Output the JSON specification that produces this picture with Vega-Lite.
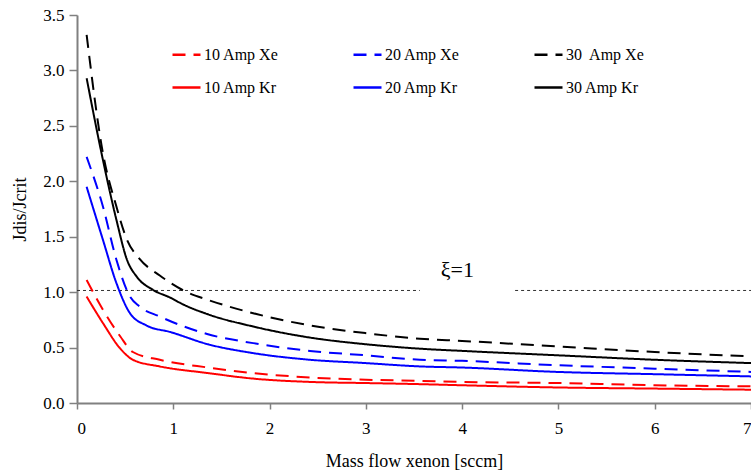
{
  "$schema": "https://vega.github.io/schema/vega-lite/v6.json",
  "autosize": "none",
  "padding": {"left": 77, "top": 15, "right": 0, "bottom": 68},
  "width": 674,
  "height": 388,
  "background": "white",
  "config": {
    "view": {"stroke": null},
    "font": "Liberation Serif",
    "axis": {"grid": false, "domainColor": "#808080", "tickColor": "#808080", "domainWidth": 2, "tickWidth": 1.5, "labelColor": "#000", "titleColor": "#000", "labelFont": "Liberation Serif", "titleFont": "Liberation Serif", "labelFontSize": 17, "titleFontSize": 18, "titleFontWeight": "normal"},
    "legend": {"labelFont": "Liberation Serif", "labelFontSize": 16, "labelColor": "#000"}
  },
  "datasets": {
    "curves": [
      {"series": "30  Amp Xe", "x": 0.1, "y": 3.32}, {"series": "30  Amp Xe", "x": 0.27, "y": 2.25}, {"series": "30  Amp Xe", "x": 0.41, "y": 1.77}, {"series": "30  Amp Xe", "x": 0.52, "y": 1.47}, {"series": "30  Amp Xe", "x": 0.65, "y": 1.3}, {"series": "30  Amp Xe", "x": 0.86, "y": 1.15}, {"series": "30  Amp Xe", "x": 1.14, "y": 1.0}, {"series": "30  Amp Xe", "x": 1.36, "y": 0.93}, {"series": "30  Amp Xe", "x": 1.83, "y": 0.81}, {"series": "30  Amp Xe", "x": 2.42, "y": 0.7}, {"series": "30  Amp Xe", "x": 3.0, "y": 0.63}, {"series": "30  Amp Xe", "x": 3.56, "y": 0.58}, {"series": "30  Amp Xe", "x": 4, "y": 0.56}, {"series": "30  Amp Xe", "x": 5, "y": 0.51}, {"series": "30  Amp Xe", "x": 6, "y": 0.46}, {"series": "30  Amp Xe", "x": 7, "y": 0.42},
      {"series": "30 Amp Kr", "x": 0.1, "y": 2.93}, {"series": "30 Amp Kr", "x": 0.27, "y": 2.19}, {"series": "30 Amp Kr", "x": 0.41, "y": 1.65}, {"series": "30 Amp Kr", "x": 0.52, "y": 1.29}, {"series": "30 Amp Kr", "x": 0.62, "y": 1.14}, {"series": "30 Amp Kr", "x": 0.79, "y": 1.02}, {"series": "30 Amp Kr", "x": 0.97, "y": 0.95}, {"series": "30 Amp Kr", "x": 1.1, "y": 0.89}, {"series": "30 Amp Kr", "x": 1.36, "y": 0.8}, {"series": "30 Amp Kr", "x": 1.83, "y": 0.69}, {"series": "30 Amp Kr", "x": 2.42, "y": 0.59}, {"series": "30 Amp Kr", "x": 3.0, "y": 0.53}, {"series": "30 Amp Kr", "x": 3.56, "y": 0.49}, {"series": "30 Amp Kr", "x": 4, "y": 0.47}, {"series": "30 Amp Kr", "x": 5, "y": 0.43}, {"series": "30 Amp Kr", "x": 6, "y": 0.39}, {"series": "30 Amp Kr", "x": 7, "y": 0.36},
      {"series": "20 Amp Xe", "x": 0.1, "y": 2.22}, {"series": "20 Amp Xe", "x": 0.27, "y": 1.77}, {"series": "20 Amp Xe", "x": 0.41, "y": 1.29}, {"series": "20 Amp Xe", "x": 0.55, "y": 0.96}, {"series": "20 Amp Xe", "x": 0.65, "y": 0.87}, {"series": "20 Amp Xe", "x": 0.86, "y": 0.78}, {"series": "20 Amp Xe", "x": 1.36, "y": 0.62}, {"series": "20 Amp Xe", "x": 1.83, "y": 0.54}, {"series": "20 Amp Xe", "x": 2.42, "y": 0.47}, {"series": "20 Amp Xe", "x": 3.0, "y": 0.43}, {"series": "20 Amp Xe", "x": 3.56, "y": 0.39}, {"series": "20 Amp Xe", "x": 4, "y": 0.38}, {"series": "20 Amp Xe", "x": 5, "y": 0.34}, {"series": "20 Amp Xe", "x": 6, "y": 0.31}, {"series": "20 Amp Xe", "x": 7, "y": 0.28},
      {"series": "20 Amp Kr", "x": 0.1, "y": 1.95}, {"series": "20 Amp Kr", "x": 0.27, "y": 1.47}, {"series": "20 Amp Kr", "x": 0.41, "y": 1.08}, {"series": "20 Amp Kr", "x": 0.55, "y": 0.81}, {"series": "20 Amp Kr", "x": 0.72, "y": 0.7}, {"series": "20 Amp Kr", "x": 0.97, "y": 0.64}, {"series": "20 Amp Kr", "x": 1.36, "y": 0.53}, {"series": "20 Amp Kr", "x": 1.83, "y": 0.45}, {"series": "20 Amp Kr", "x": 2.42, "y": 0.39}, {"series": "20 Amp Kr", "x": 3.0, "y": 0.36}, {"series": "20 Amp Kr", "x": 3.56, "y": 0.33}, {"series": "20 Amp Kr", "x": 4, "y": 0.32}, {"series": "20 Amp Kr", "x": 5, "y": 0.28}, {"series": "20 Amp Kr", "x": 6, "y": 0.26}, {"series": "20 Amp Kr", "x": 7, "y": 0.24},
      {"series": "10 Amp Xe", "x": 0.1, "y": 1.11}, {"series": "10 Amp Xe", "x": 0.27, "y": 0.84}, {"series": "10 Amp Xe", "x": 0.45, "y": 0.6}, {"series": "10 Amp Xe", "x": 0.58, "y": 0.46}, {"series": "10 Amp Xe", "x": 0.86, "y": 0.39}, {"series": "10 Amp Xe", "x": 1.36, "y": 0.32}, {"series": "10 Amp Xe", "x": 1.83, "y": 0.27}, {"series": "10 Amp Xe", "x": 2.42, "y": 0.23}, {"series": "10 Amp Xe", "x": 3.0, "y": 0.21}, {"series": "10 Amp Xe", "x": 3.56, "y": 0.2}, {"series": "10 Amp Xe", "x": 4, "y": 0.19}, {"series": "10 Amp Xe", "x": 5, "y": 0.18}, {"series": "10 Amp Xe", "x": 6, "y": 0.16}, {"series": "10 Amp Xe", "x": 7, "y": 0.15},
      {"series": "10 Amp Kr", "x": 0.1, "y": 0.96}, {"series": "10 Amp Kr", "x": 0.27, "y": 0.72}, {"series": "10 Amp Kr", "x": 0.45, "y": 0.49}, {"series": "10 Amp Kr", "x": 0.58, "y": 0.39}, {"series": "10 Amp Kr", "x": 0.86, "y": 0.33}, {"series": "10 Amp Kr", "x": 1.36, "y": 0.27}, {"series": "10 Amp Kr", "x": 1.83, "y": 0.22}, {"series": "10 Amp Kr", "x": 2.42, "y": 0.19}, {"series": "10 Amp Kr", "x": 3.0, "y": 0.18}, {"series": "10 Amp Kr", "x": 3.56, "y": 0.17}, {"series": "10 Amp Kr", "x": 4, "y": 0.16}, {"series": "10 Amp Kr", "x": 5, "y": 0.14}, {"series": "10 Amp Kr", "x": 6, "y": 0.13}, {"series": "10 Amp Kr", "x": 7, "y": 0.12}
    ],
    "ref": [
      {"seg": "a", "x": 0, "y": 1.015}, {"seg": "a", "x": 3.56, "y": 1.015},
      {"seg": "b", "x": 4.55, "y": 1.015}, {"seg": "b", "x": 7, "y": 1.015}
    ],
    "note": [{"x": 3.95, "y": 1.136, "label": "ξ=1"}]
  },
  "encoding": {
    "x": {"field": "x", "type": "quantitative", "scale": {"domain": [0, 7], "nice": false, "zero": false},
      "axis": {"values": [0, 1, 2, 3, 4, 5, 6, 7], "format": "d", "tickSize": 6, "labelPadding": 11, "labelFont": "Liberation Serif", "labelFontSize": 17, "titleFont": "Liberation Serif", "titleFontSize": 18, "titleFontWeight": "normal", "title": "Mass flow xenon [sccm]", "titleY": 63, "titleBaseline": "alphabetic"}},
    "y": {"field": "y", "type": "quantitative", "scale": {"domain": [0, 3.5], "nice": false},
      "axis": {"values": [0, 0.5, 1, 1.5, 2, 2.5, 3, 3.5], "format": ".1f", "tickSize": 8, "labelPadding": 5, "labelFont": "Liberation Serif", "labelFontSize": 17, "titleFont": "Liberation Serif", "titleFontSize": 18, "titleFontWeight": "normal", "title": "Jdis/Jcrit", "titleX": -57, "titleY": 194, "titleBaseline": "middle", "titleAnchor": "middle"}}
  },
  "layer": [
    {
      "data": {"name": "ref"},
      "mark": {"type": "line", "color": "#333333", "strokeWidth": 1, "strokeDash": [3, 3]},
      "encoding": {
        "detail": {"field": "seg"}
      }
    },
    {
      "data": {"name": "curves"},
      "mark": {"type": "line", "strokeWidth": 2, "interpolate": "monotone"},
      "encoding": {
        "color": {"field": "series", "type": "nominal",
          "scale": {"domain": ["10 Amp Xe", "10 Amp Kr", "20 Amp Xe", "20 Amp Kr", "30  Amp Xe", "30 Amp Kr"], "range": ["#ff0000", "#ff0000", "#0000ff", "#0000ff", "#000000", "#000000"]},
          "legend": {"title": null, "orient": "none", "legendX": 94, "legendY": 24, "columns": 3, "symbolType": "stroke", "symbolSize": 784, "symbolStrokeWidth": 2.5, "labelOffset": 2, "labelFont": "Liberation Serif", "labelFontSize": 16, "labelExpr": "datum.label === '30  Amp Xe' ? '30\u00a0 Amp Xe' : datum.label", "columnPadding": 65, "rowPadding": 9, "gridAlign": "all", "padding": 0}},
        "strokeDash": {"field": "series", "type": "nominal",
          "scale": {"domain": ["10 Amp Xe", "10 Amp Kr", "20 Amp Xe", "20 Amp Kr", "30  Amp Xe", "30 Amp Kr"], "range": [[13, 8], [1, 0], [13, 8], [1, 0], [13, 8], [1, 0]]},
          "legend": {"title": null, "orient": "none", "legendX": 94, "legendY": 24, "columns": 3, "symbolType": "stroke", "symbolSize": 784, "symbolStrokeWidth": 2.5, "labelOffset": 2, "labelFont": "Liberation Serif", "labelFontSize": 16, "labelExpr": "datum.label === '30  Amp Xe' ? '30\u00a0 Amp Xe' : datum.label", "columnPadding": 65, "rowPadding": 9, "gridAlign": "all", "padding": 0}}
      }
    },
    {
      "data": {"name": "note"},
      "mark": {"type": "text", "fontSize": 22, "font": "Liberation Serif", "align": "center", "baseline": "alphabetic", "color": "#000"},
      "encoding": {
        "text": {"field": "label"}
      }
    }
  ]
}
